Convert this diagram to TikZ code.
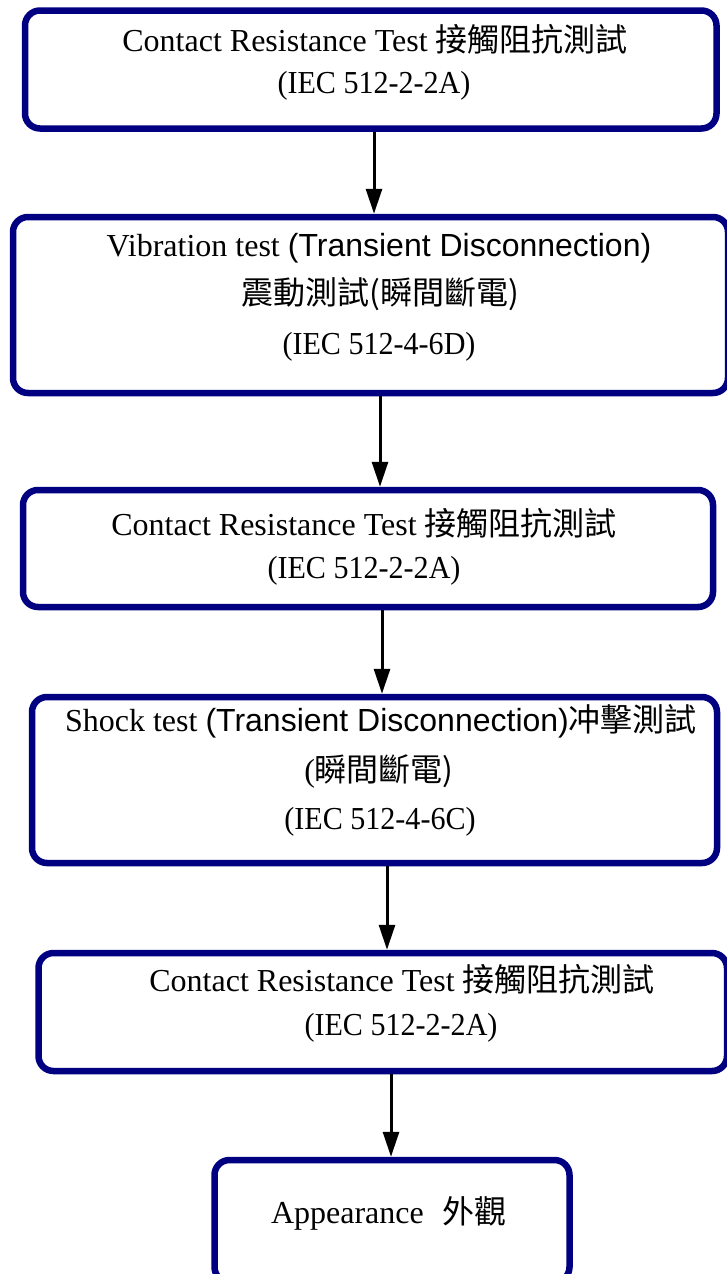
\documentclass[tikz,border=0pt]{standalone}
\usepackage{fontspec}
\setmainfont{Liberation Serif}
\newfontfamily\cjk{Noto Sans CJK TC}
\newfontfamily\sansf{Liberation Sans}
\usetikzlibrary{arrows.meta}
\definecolor{navy}{RGB}{0,0,128}
\newcommand{\iec}[1]{\scalebox{0.94}[1]{#1}}
\begin{document}
\begin{tikzpicture}[x=1pt,y=-1pt,
  box/.style={draw=navy, line width=6.5pt, rounded corners=15pt, inner sep=0pt, fill=none},
  txt/.style={anchor=base, inner sep=0pt, font=\fontsize{32}{38}\selectfont},
  arr/.style={line width=3pt, black, -{Triangle[length=25pt,width=16pt]}}]
\useasboundingbox (0,0) rectangle (726,1274);
% boxes
\node[box, minimum width=691.5pt, minimum height=118pt] (b1) at (370.75,69.5) {};
\node[box, minimum width=715pt, minimum height=176pt] (b2) at (370.5,305) {};
\node[box, minimum width=690pt, minimum height=117pt] (b3) at (368,548.5) {};
\node[box, minimum width=685pt, minimum height=166pt] (b4) at (374.5,780) {};
\node[box, minimum width=688.5pt, minimum height=118pt] (b5) at (382.75,1012) {};
\node[box, minimum width=355pt, minimum height=122pt] (b6) at (392,1221) {};
% texts
\node[txt] (t1a) at (375,51) {Contact Resistance Test \cjk{接觸阻抗測試}};
\node[txt] (t1b) at (374,93) {\iec{(IEC 512-2-2A)}};
\node[txt] (t2a) at (379,256) {Vibration test {\sansf(Transient Disconnection)}};
\node[txt] (t2b) at (380,304) {\cjk{震動測試}(\cjk{瞬間斷電})};
\node[txt] (t2c) at (379,354) {\iec{(IEC 512-4-6D)}};
\node[txt] (t3a) at (364,535) {Contact Resistance Test \cjk{接觸阻抗測試}};
\node[txt] (t3b) at (364,578) {\iec{(IEC 512-2-2A)}};
\node[txt] (t4a) at (381,731) {Shock test {\sansf(Transient Disconnection)}\cjk{冲擊測試}};
\node[txt] (t4b) at (379,781) {(\cjk{瞬間斷電})};
\node[txt] (t4c) at (380,829) {\iec{(IEC 512-4-6C)}};
\node[txt] (t5a) at (402,991) {Contact Resistance Test \cjk{接觸阻抗測試}};
\node[txt] (t5b) at (401,1035) {\iec{(IEC 512-2-2A)}};
\node[txt] (t6a) at (389,1223) {Appearance\hspace{0.6em}\cjk{外觀}};
% arrow x positions
\coordinate (x1) at (374,0);
\coordinate (x2) at (380,0);
\coordinate (x3) at (382,0);
\coordinate (x4) at (387,0);
\coordinate (x5) at (391,0);
\draw[arr] (b1.south -| x1) -- (b2.north -| x1);
\draw[arr] (b2.south -| x2) -- (b3.north -| x2);
\draw[arr] (b3.south -| x3) -- (b4.north -| x3);
\draw[arr] (b4.south -| x4) -- (b5.north -| x4);
\draw[arr] (b5.south -| x5) -- (b6.north -| x5);
\end{tikzpicture}
\end{document}
